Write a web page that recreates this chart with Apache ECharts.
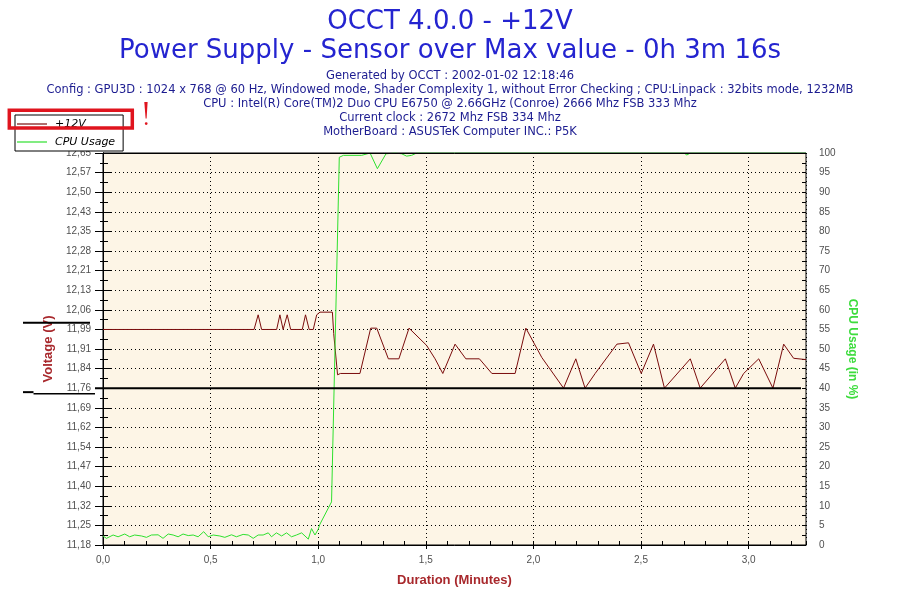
<!DOCTYPE html>
<html><head><meta charset="utf-8">
<script src="https://cdn.jsdelivr.net/npm/echarts@6/dist/echarts.min.js"></script>
<style>html,body{margin:0;padding:0;background:#fff}#c{width:900px;height:600px}</style>
</head><body><div id="c"></div>
<script>
// ---------- text ----------
const titleLines = ['OCCT 4.0.0 - +12V', 'Power Supply - Sensor over Max value - 0h 3m 16s'];
const infoLines = [
  'Generated by OCCT : 2002-01-02 12:18:46',
  'Config : GPU3D : 1024 x 768 @ 60 Hz, Windowed mode, Shader Complexity 1, without Error Checking ; CPU:Linpack : 32bits mode, 1232MB',
  'CPU : Intel(R) Core(TM)2 Duo CPU E6750 @ 2.66GHz (Conroe) 2666 Mhz FSB 333 Mhz',
  'Current clock : 2672 Mhz FSB 334 Mhz',
  'MotherBoard : ASUSTeK Computer INC.: P5K'
];
const seriesNames = ['+12V', 'CPU Usage'];

// ---------- tick labels ----------
const voltTickLabels = ['11,18','11,25','11,32','11,40','11,47','11,54','11,62','11,69','11,76','11,84','11,91',
  '11,99','12,06','12,13','12,21','12,28','12,35','12,43','12,50','12,57','12,65'];
const timeTickLabels = ['0,0','0,5','1,0','1,5','2,0','2,5','3,0'];
const cpuTickLabels = ['0','5','10','15','20','25','30','35','40','45','50','55','60','65','70','75','80','85','90','95','100'];

// ---------- data (time in minutes) ----------
const voltTimes = [0, 0.702, 0.721, 0.737, 0.807, 0.822, 0.837, 0.856, 0.872, 0.926, 0.941, 0.958, 0.977, 0.993,
  1.008, 1.066, 1.072, 1.090, 1.103, 1.194, 1.244, 1.272, 1.326, 1.375, 1.422, 1.504, 1.543, 1.579, 1.636, 1.686,
  1.749, 1.807, 1.915, 1.965, 2.039, 2.140, 2.197, 2.240, 2.287, 2.388, 2.442, 2.501, 2.558, 2.609, 2.729, 2.775,
  2.892, 2.938, 2.977, 3.047, 3.113, 3.163, 3.209, 3.267];
const voltValues = [11.985, 11.985, 12.04, 11.985, 11.985, 12.04, 11.985, 12.04, 11.985, 11.985, 12.04, 11.985, 11.985, 12.04,
  12.05, 12.05, 11.97, 11.815, 11.82, 11.82, 11.99, 11.99, 11.875, 11.875, 11.99, 11.925, 11.875, 11.82, 11.93, 11.875,
  11.875, 11.82, 11.82, 11.99, 11.88, 11.765, 11.875, 11.765, 11.82, 11.93, 11.935, 11.82, 11.93, 11.765, 11.875, 11.765,
  11.875, 11.765, 11.82, 11.875, 11.765, 11.93, 11.877, 11.872];

const cpuTimes = [0, 0.016, 0.047, 0.070, 0.101, 0.124, 0.147, 0.179, 0.202, 0.225, 0.256, 0.279, 0.303, 0.326, 0.349,
  0.372, 0.396, 0.419, 0.442, 0.468, 0.489, 0.512, 0.543, 0.566, 0.597, 0.620, 0.651, 0.675, 0.698, 0.721, 0.744,
  0.768, 0.783, 0.806, 0.830, 0.853, 0.876, 0.899, 0.923, 0.954, 0.969, 0.985, 1.000, 1.008, 1.062, 1.098, 1.117,
  1.202, 1.241, 1.275, 1.315, 1.357, 1.388, 1.411, 1.434, 1.458, 2.700, 2.713, 2.730, 3.267];
const cpuValues = [2.3, 1.7, 2.55, 2.1, 2.8, 2.1, 2.55, 2.3, 1.95, 2.55, 2.6, 1.7, 2.8, 2.55, 2.1,
  2.8, 2.4, 2.55, 2.1, 3.4, 2.1, 2.55, 2.3, 1.95, 2.6, 2.1, 2.7, 2.55, 1.7, 2.55, 2.55,
  3.1, 2.1, 3.1, 2.3, 3.1, 2.1, 2.55, 3.1, 1.5, 4.2, 2.55, 4.0, 5.3, 11, 98.9, 99.4,
  99.4, 100, 96, 99.8, 100, 99.8, 99.2, 99.4, 100, 100, 99.5, 100, 100];

// ---------- axis scales ----------
const VOLT_MIN = 11.1768, VOLT_STEP = 0.0735, VOLT_MAX = VOLT_MIN + 20 * VOLT_STEP;
const X_MAX = 3.2667;
const minLineValue = 11.765;   // black reference line
const upperMarkValue = 12.01;  // black marker left of axis

const FONT = 'DejaVu Sans';
const TICKFONT = 'Liberation Sans';
const RED = '#a8282c', GREEN_T = '#3ddc3d';
const VCOL = '#7a0c0c', CCOL = '#2ee02e';
const G = {left: 103, right: 94, top: 153, bottom: 55};

const chart = echarts.init(document.getElementById('c'), null, {renderer: 'canvas'});

const tickLbl = {fontFamily: TICKFONT, fontSize: 10, color: '#505050'};
const dotted = {show: true, lineStyle: {color: '#000', width: 1, type: [1, 3]}};

const option = {
  backgroundColor: '#ffffff',
  animation: false,
  title: [
    {text: titleLines.join('\n'), left: 'center', top: 3,
     textStyle: {fontFamily: FONT, fontSize: 26, fontWeight: 'normal', color: '#2424d0', lineHeight: 29}},
    {text: infoLines.join('\n'), left: 'center', top: 64,
     textStyle: {fontFamily: FONT, fontSize: 11.5, fontWeight: 'normal', color: '#1c1c90', lineHeight: 14}}
  ],
  legend: {
    orient: 'vertical', left: 15, top: 115,
    data: [
      {name: seriesNames[0], icon: 'rect', itemStyle: {color: VCOL}},
      {name: seriesNames[1], icon: 'rect', itemStyle: {color: CCOL}}
    ],
    backgroundColor: '#ffffff', borderColor: '#000', borderWidth: 1, borderRadius: 0,
    padding: [0, 8, 0, 2], itemGap: 0, itemWidth: 30, itemHeight: 1.2,
    textStyle: {fontFamily: FONT, fontSize: 11, fontStyle: 'italic', color: '#000', lineHeight: 18, padding: [0, 0, 0, 3]},
    selectedMode: false
  },
  grid: {left: G.left, right: G.right, top: G.top, bottom: G.bottom, show: true,
    backgroundColor: '#fdf5e6', borderColor: '#000', borderWidth: 1, containLabel: false},
  xAxis: [
    {type: 'value', min: 0, max: X_MAX, interval: 0.5, position: 'bottom',
     name: 'Duration (Minutes)', nameLocation: 'middle', nameGap: 29,
     nameTextStyle: {fontFamily: TICKFONT, fontSize: 13, fontWeight: 'bold', color: RED},
     axisLine: {show: true, lineStyle: {color: '#000', width: 1}},
     axisTick: {show: true, inside: false, length: 4, lineStyle: {color: '#000'}},
     axisLabel: Object.assign({margin: 10, showMaxLabel: false,
       formatter: v => timeTickLabels[Math.round(v / 0.5)] || ''}, tickLbl),
     splitLine: dotted},
    {type: 'value', min: 0, max: X_MAX, interval: 0.1, position: 'bottom',
     axisLine: {show: false}, axisLabel: {show: false}, splitLine: {show: false},
     axisTick: {show: true, inside: true, length: 4, lineStyle: {color: '#000'}}},
    {type: 'value', min: 0, max: X_MAX, position: 'top', z: 10,
     axisLine: {show: true, lineStyle: {color: '#000', width: 1}},
     axisTick: {show: false}, axisLabel: {show: false}, splitLine: {show: false}}
  ],
  yAxis: [
    {type: 'value', min: VOLT_MIN, max: VOLT_MAX, interval: VOLT_STEP, position: 'left',
     name: 'Voltage (V)', nameLocation: 'middle', nameGap: 44, nameRotate: 90,
     nameTextStyle: {fontFamily: TICKFONT, fontSize: 13, fontWeight: 'bold', color: RED},
     axisLine: {show: true, lineStyle: {color: '#000', width: 1}},
     axisTick: {show: true, inside: false, length: 8, lineStyle: {color: '#000'}},
     minorTick: {show: true, splitNumber: 2, length: 3, lineStyle: {color: '#000'}},
     axisLabel: Object.assign({margin: 12,
       formatter: v => voltTickLabels[Math.round((v - VOLT_MIN) / VOLT_STEP)] || ''}, tickLbl),
     splitLine: dotted},
    {type: 'value', min: 0, max: 100, interval: 5, position: 'right',
     name: 'CPU Usage (in %)', nameLocation: 'middle', nameGap: 34, nameRotate: -90,
     nameTextStyle: {fontFamily: TICKFONT, fontSize: 12, fontWeight: 'bold', color: GREEN_T},
     axisLine: {show: true, lineStyle: {color: '#000', width: 1}},
     axisTick: {show: true, inside: false, length: 8, lineStyle: {color: '#000'}},
     minorTick: {show: true, splitNumber: 2, length: 3, lineStyle: {color: '#000'}},
     axisLabel: Object.assign({margin: 13,
       formatter: v => cpuTickLabels[Math.round(v / 5)] || ''}, tickLbl),
     splitLine: {show: false}},
    {type: 'value', min: VOLT_MIN, max: VOLT_MAX, interval: VOLT_STEP / 2, position: 'left',
     axisLine: {show: false}, axisLabel: {show: false}, splitLine: {show: false},
     axisTick: {show: true, inside: true, length: 5, lineStyle: {color: '#000'}}},
    {type: 'value', min: 0, max: 100, interval: 2.5, position: 'right',
     axisLine: {show: false}, axisLabel: {show: false}, splitLine: {show: false},
     axisTick: {show: true, inside: true, length: 4, lineStyle: {color: '#000'}}}
  ],
  series: [
    {name: seriesNames[0], type: 'line', xAxisIndex: 0, yAxisIndex: 0,
     data: voltTimes.map((t, i) => [t, voltValues[i]]),
     symbol: 'none', showSymbol: false, smooth: false,
     lineStyle: {color: VCOL, width: 1}, itemStyle: {color: VCOL}, z: 3},
    {name: seriesNames[1], type: 'line', xAxisIndex: 0, yAxisIndex: 1,
     data: cpuTimes.map((t, i) => [t, cpuValues[i]]),
     symbol: 'none', showSymbol: false, smooth: false,
     lineStyle: {color: CCOL, width: 1}, itemStyle: {color: CCOL}, z: 4}
  ]
};
chart.setOption(option);

// ---------- annotations (positions derived from the axes) ----------
const yMin = chart.convertToPixel({yAxisIndex: 0}, minLineValue);
const yUp = chart.convertToPixel({yAxisIndex: 0}, upperMarkValue);
const xLeft = G.left, xRight = 900 - G.right;
const redA = '#e0141e';
chart.setOption({
  graphic: [
    {type: 'line', z: 100, shape: {x1: 23, y1: yUp, x2: 90, y2: yUp}, style: {stroke: '#000', lineWidth: 2}},
    {type: 'line', z: 100, shape: {x1: 23, y1: yMin + 4, x2: 33.5, y2: yMin + 4}, style: {stroke: '#000', lineWidth: 2}},
    {type: 'line', z: 100, shape: {x1: 33.5, y1: yMin + 5.5, x2: xLeft - 8, y2: yMin + 5.5}, style: {stroke: '#000', lineWidth: 1.5}},
    {type: 'line', z: 100, shape: {x1: xLeft - 8, y1: yMin, x2: xRight - 5, y2: yMin}, style: {stroke: '#000', lineWidth: 2}},
    {type: 'rect', z: 100, shape: {x: 9.3, y: 110.3, width: 123, height: 17.7}, style: {fill: 'none', stroke: redA, lineWidth: 3.5}},
    {type: 'polygon', z: 100, shape: {points: [[144.3, 102], [147.6, 102], [146.6, 118.5], [145.6, 118.5]]}, style: {fill: redA}},
    {type: 'circle', z: 100, shape: {cx: 146.2, cy: 123.6, r: 1.4}, style: {fill: redA}}
  ]
});
</script></body></html>
